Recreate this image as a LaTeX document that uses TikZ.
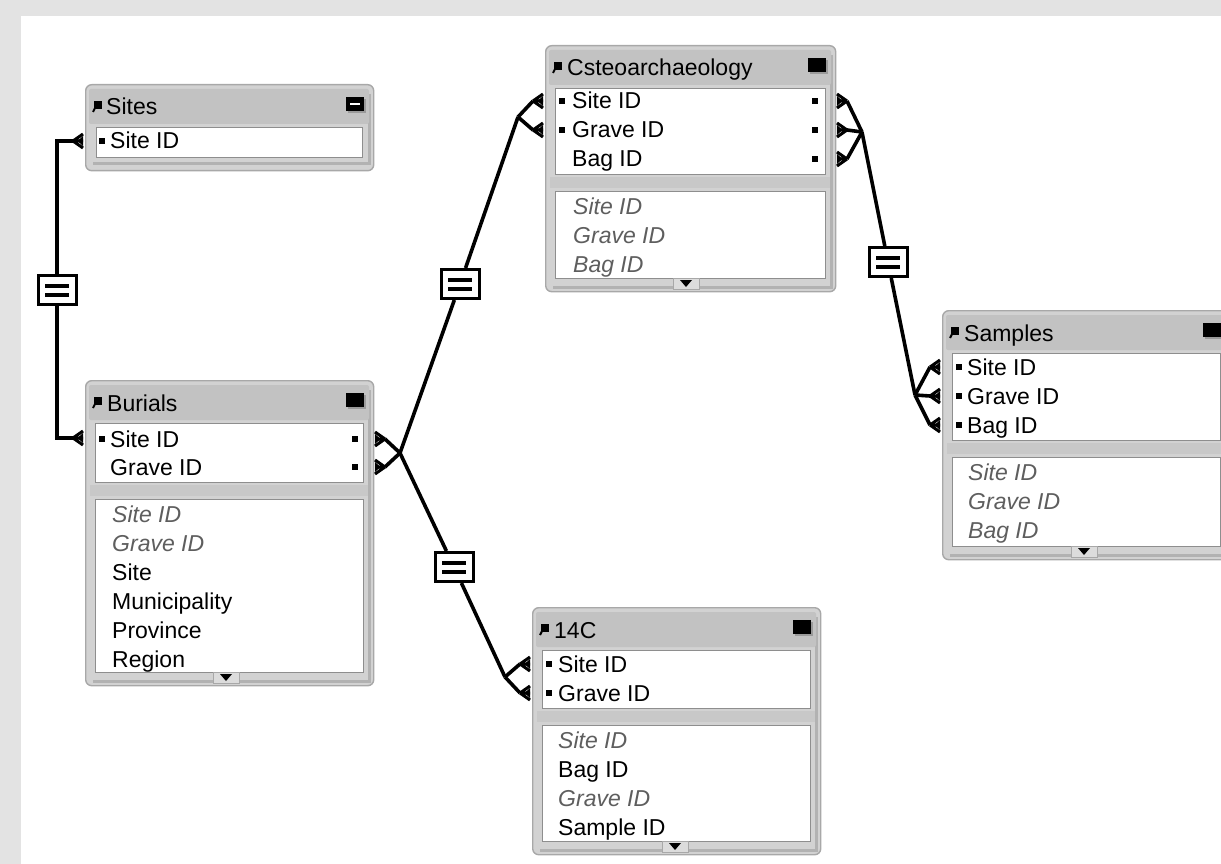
\documentclass[tikz,border=0pt]{standalone}
\usepackage{fontspec}
\setmainfont{Liberation Sans}

\definecolor{canvasgray}{HTML}{E3E3E3}
\definecolor{framefill}{HTML}{D2D2D2}
\definecolor{frameedge}{HTML}{A8A8A8}
\definecolor{framedark}{HTML}{B2B2B2}
\definecolor{titlefill}{HTML}{C2C2C2}
\definecolor{sepfill}{HTML}{C8C8C8}
\definecolor{boxedge}{HTML}{8E8E8E}
\definecolor{itgray}{HTML}{5E5E5E}
\definecolor{tabfill}{HTML}{DCDCDC}
\definecolor{iconshadow}{HTML}{9A9A9A}

\newcommand\fsz{\fontsize{23}{26}\selectfont}

\tikzset{
  tblframe/.style={draw=frameedge, fill=framefill, line width=1.4pt,
    rounded corners=6pt, inner sep=0pt},
  titlebar/.style={fill=titlefill},
  fieldarea/.style={fill=white, draw=boxedge, line width=0.9pt},
  tbltitle/.style={anchor=base west, inner sep=0pt, font=\fsz},
  keyfield/.style={anchor=base west, inner sep=0pt, font=\fsz},
  datafield/.style={anchor=base west, inner sep=0pt, font=\fsz\itshape, text=itgray},
  plainfield/.style={anchor=base west, inner sep=0pt, font=\fsz},
  keymark/.style={fill=black, minimum width=6, minimum height=6, inner sep=0pt},
  conn/.style={line width=3.6pt},
  prong/.style={line width=3pt},
  eqbox/.style={draw, line width=3pt, fill=white, minimum width=38,
    minimum height=29, inner sep=0pt},
}

% table frame: name, x0, y0, x1, key-area bottom, data-area bottom, tab x, title
\newcommand\dbtable[8]{%
  \node[tblframe, anchor=north west, minimum width={#4-#2},
        minimum height={#6+13-#3}] (#1) at (#2,#3) {};
  \draw[framedark, line width=3pt] ({#4-4},{#3+10}) -- ({#4-4},{#6+9}) -- ({#2+8},{#6+9});
  \fill[titlebar, rounded corners=2pt] ({#2+4},{#3+5}) rectangle ({#4-4},{#3+40});
  \path[fieldarea] ({#2+10},{#3+43}) rectangle ({#4-10},#5);
  \fill[sepfill] ({#2+5},{#5+3}) rectangle ({#4-5},{#5+14});
  \path[fieldarea] ({#2+10},{#5+17}) rectangle ({#4-10},#6);
  \filldraw[fill=tabfill, draw=frameedge, line width=0.8pt]
     ({#7-13},#6) rectangle ({#7+13},{#6+11});
  \fill ({#7-6},{#6+2}) -- ({#7+6},{#6+2}) -- (#7,{#6+9}) -- cycle;
  \fill[iconshadow] ({#4-25},{#3+15}) rectangle ({#4-7},{#3+29});
  \fill ({#4-27},{#3+13}) rectangle ({#4-9},{#3+27});
  \fill ({#2+9},{#3+17}) rectangle ({#2+17},{#3+25});
  \draw[line width=2pt] ({#2+10},{#3+24}) -- ({#2+8},{#3+28});
  \node[tbltitle] (#1-title) at ({#2+22},{#3+31}) {#8};
}

% crow's foot at a field end: name, x at the frame, row y, fork offset
\newcommand\crow[4]{%
  \coordinate (#1) at ({#2+(#4)},#3);
  \draw[prong] (#1) -- (#2,{#3-7}) (#1) -- (#2,#3) (#1) -- (#2,{#3+7});
  \fill (#2,{#3-5}) -- ({#2+0.55*(#4)},#3) -- (#2,{#3+5}) -- cycle;
}

% relationship operator box
\newcommand\eqbox[3]{%
  \node[eqbox] (#1) at (#2,#3) {};
  \fill ({#2-12},{#3-6.5}) rectangle ({#2+12},{#3-2.5});
  \fill ({#2-12},{#3+2.5}) rectangle ({#2+12},{#3+6.5});
}

\begin{document}
\begin{tikzpicture}[x=1pt, y=-1pt]
\useasboundingbox (0,0) rectangle (1221,864);
\clip (0,0) rectangle (1221,864);
\fill[canvasgray] (0,0) rectangle (1221,864);
\fill[white] (21,16) rectangle (1221,864);

% ---- Sites ----
\node[tblframe, anchor=north west, minimum width=288, minimum height=86] (sites) at (85,84) {};
\draw[framedark, line width=3pt] (369,94) -- (369,164) -- (93,164);
\fill[titlebar, rounded corners=2pt] (89,89) rectangle (369,124);
\path[fieldarea] (96,127) rectangle (362,157);
\fill[iconshadow] (348,99) rectangle (366,113);
\fill (346,97) rectangle (364,111);
\fill[white] (350,103) rectangle (360,105.5);
\fill (94,101) rectangle (102,109);
\draw[line width=2pt] (95,108) -- (93,112);
\node[tbltitle] (sites-title) at (106,115) {Sites};
\node[keymark] (sites-m1) at (102,141) {};
\node[keyfield] (sites-k1) at (110,149) {Site ID};

% ---- Burials ----
\dbtable{bur}{85}{380}{373}{482}{672}{226}{Burials}
\node[keymark] (bur-m1) at (102,439) {};
\node[keyfield] (bur-k1) at (110,447) {Site ID};
\node[keyfield] (bur-k2) at (110,475) {Grave ID};
\node[keymark] (bur-r1) at (355,439) {};
\node[keymark] (bur-r2) at (355,467) {};
\node[datafield] (bur-d1) at (112,522) {Site ID};
\node[datafield] (bur-d2) at (112,551) {Grave ID};
\node[plainfield] (bur-d3) at (112,580) {Site};
\node[plainfield] (bur-d4) at (112,609) {Municipality};
\node[plainfield] (bur-d5) at (112,638) {Province};
\node[plainfield] (bur-d6) at (112,667) {Region};

% ---- Osteoarchaeology ----
\dbtable{ost}{545}{45}{835}{174}{278}{686}{Csteoarchaeology}
\node[keymark] (ost-m1) at (562,101) {};
\node[keymark] (ost-m2) at (562,130) {};
\node[keyfield] (ost-k1) at (572,109) {Site ID};
\node[keyfield] (ost-k2) at (572,138) {Grave ID};
\node[keyfield] (ost-k3) at (572,167) {Bag ID};
\node[keymark] (ost-r1) at (815,101) {};
\node[keymark] (ost-r2) at (815,130) {};
\node[keymark] (ost-r3) at (815,159) {};
\node[datafield] (ost-d1) at (573,214) {Site ID};
\node[datafield] (ost-d2) at (573,243) {Grave ID};
\node[datafield] (ost-d3) at (573,272) {Bag ID};

% ---- Samples ----
\dbtable{sam}{942}{310}{1230}{440}{546}{1084}{Samples}
\node[keymark] (sam-m1) at (959,367) {};
\node[keymark] (sam-m2) at (959,396) {};
\node[keymark] (sam-m3) at (959,425) {};
\node[keyfield] (sam-k1) at (967,375) {Site ID};
\node[keyfield] (sam-k2) at (967,404) {Grave ID};
\node[keyfield] (sam-k3) at (967,433) {Bag ID};
\node[datafield] (sam-d1) at (968,480) {Site ID};
\node[datafield] (sam-d2) at (968,509) {Grave ID};
\node[datafield] (sam-d3) at (968,538) {Bag ID};

% ---- 14C ----
\dbtable{cf}{532}{607}{820}{708}{841}{675}{14C}
\node[keymark] (cf-m1) at (549,664) {};
\node[keymark] (cf-m2) at (549,693) {};
\node[keyfield] (cf-k1) at (558,672) {Site ID};
\node[keyfield] (cf-k2) at (558,701) {Grave ID};
\node[datafield] (cf-d1) at (558,748) {Site ID};
\node[plainfield] (cf-d2) at (558,777) {Bag ID};
\node[datafield] (cf-d3) at (558,806) {Grave ID};
\node[plainfield] (cf-d4) at (558,835) {Sample ID};

% ---- relationship operators ----
\eqbox{eqA}{57}{290}
\eqbox{eqB}{460}{284}
\eqbox{eqC}{454}{567}
\eqbox{eqD}{888}{262}

% ---- crow's feet at the matched fields ----
\crow{sitesF}{83}{141}{-10}
\crow{burLF}{83}{438}{-10}
\crow{burR1F}{375}{439}{10}
\crow{burR2F}{375}{467}{10}
\crow{ostL1F}{543}{101}{-10}
\crow{ostL2F}{543}{130}{-10}
\crow{ostR1F}{837}{101}{10}
\crow{ostR2F}{837}{130}{10}
\crow{ostR3F}{837}{159}{10}
\crow{samL1F}{940}{367}{-10}
\crow{samL2F}{940}{396}{-10}
\crow{samL3F}{940}{425}{-10}
\crow{cfL1F}{530}{664}{-10}
\crow{cfL2F}{530}{693}{-10}

\coordinate (jBur) at (400,453);
\coordinate (jOst) at (518,117);
\coordinate (jCf) at (505,677);
\coordinate (jOstR) at (862,132);
\coordinate (jSam) at (915,395);

% ---- connectors ----
\draw[conn] (sitesF) -| (eqA);
\draw[conn] (eqA) |- (burLF);

\draw[conn] (burR1F) -- (jBur);
\draw[conn] (burR2F) -- (jBur);
\draw[conn] (jBur) -- (eqB);
\draw[conn] (eqB) -- (jOst);
\draw[conn] (jOst) -- (ostL1F);
\draw[conn] (jOst) -- (ostL2F);

\draw[conn] (jBur) -- (eqC);
\draw[conn] (eqC) -- (jCf);
\draw[conn] (jCf) -- (cfL1F);
\draw[conn] (jCf) -- (cfL2F);

\draw[conn] (ostR1F) -- (jOstR);
\draw[conn] (ostR2F) -- (jOstR);
\draw[conn] (ostR3F) -- (jOstR);
\draw[conn] (jOstR) -- (eqD);
\draw[conn] (eqD) -- (jSam);
\draw[conn] (jSam) -- (samL1F);
\draw[conn] (jSam) -- (samL2F);
\draw[conn] (jSam) -- (samL3F);
\end{tikzpicture}
\end{document}
